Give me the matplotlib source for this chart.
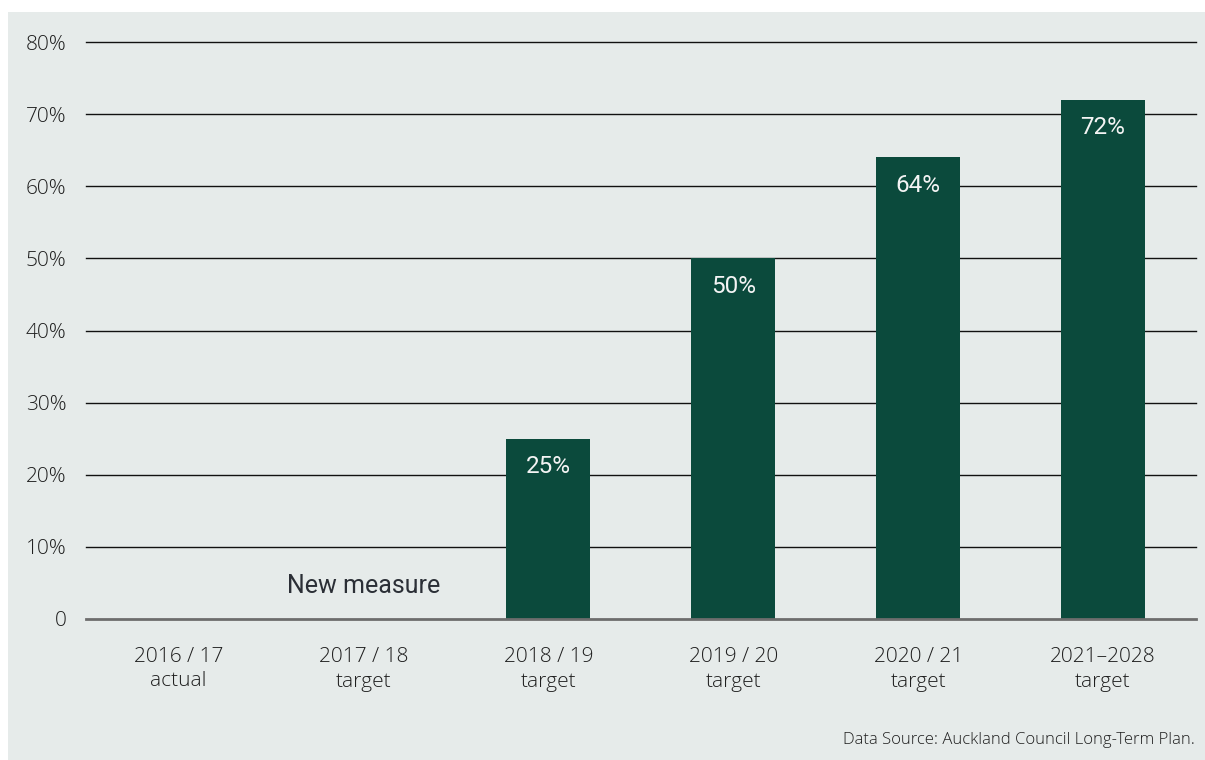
import matplotlib
matplotlib.use("Agg")
import matplotlib.pyplot as plt
from matplotlib.patches import Rectangle
from matplotlib.transforms import offset_copy

# Data
categories = ["2016 / 17\nactual", "2017 / 18\ntarget", "2018 / 19\ntarget",
              "2019 / 20\ntarget", "2020 / 21\ntarget", "2021\u20132028\ntarget"]
values = [None, None, 25, 50, 64, 72]
value_labels = ["", "", "25%", "50%", "64%", "72%"]
y_ticks = [0, 10, 20, 30, 40, 50, 60, 70, 80]
y_tick_labels = ["0", "10%", "20%", "30%", "40%", "50%", "60%", "70%", "80%"]
note_text = "New measure"
source_text = "Data Source: Auckland Council Long-Term Plan."

BAR = "#0b4a3c"
BG = "#e6ebea"
TXT = "#1f1f1f"

W, H = 1205, 760
fig = plt.figure(figsize=(W / 100, H / 100), dpi=100, facecolor="white")

# light panel behind the chart
fig.patches.append(Rectangle((8 / W, 0), 1 - 8 / W, 1 - 12 / H,
                             transform=fig.transFigure, facecolor=BG,
                             edgecolor="none", zorder=-10))

left, right = 86 / W, 1195.5 / W
bottom, top = 1 - 619 / H, 1 - 42 / H
ax = fig.add_axes([left, bottom, right - left, top - bottom])
ax.set_facecolor("none")

x = list(range(len(categories)))
ax.set_xlim(-0.5, len(categories) - 0.5)
ax.set_ylim(0, 80)

# horizontal gridlines
for t in y_ticks[1:]:
    ax.axhline(t, color="#111111", lw=1.0, zorder=1, clip_on=False)
ax.axhline(0, color="#6d6d6d", lw=2.0, zorder=3, clip_on=False)

bx = [i for i, v in zip(x, values) if v is not None]
bv = [v for v in values if v is not None]
ax.bar(bx, bv, width=0.455, color=BAR, zorder=2)

for i, v, lab in zip(x, values, value_labels):
    if v is None:
        continue
    ax.annotate(lab, (i, v), xytext=(0, -28), textcoords="offset pixels",
                ha="center", va="center", color="#f4f4f4", fontsize=17.5,
                family="Roboto", fontweight="normal", zorder=4)

ax.text(1, 4.6, note_text, ha="center", va="center", fontsize=18,
        family="Roboto", color="#2b2f36", zorder=4)

for s in ax.spines.values():
    s.set_visible(False)
ax.tick_params(length=0)
ax.set_yticks(y_ticks)
ax.set_yticklabels(y_tick_labels, family="Open Sans", fontsize=15, color=TXT,
                   fontweight="light")
ax.tick_params(axis="y", pad=14)
ax.set_xticks([])

for i, cat in enumerate(categories):
    ax.text(i, 0, cat, transform=offset_copy(ax.transData, fig=fig, x=0, y=-28, units="dots"),
            ha="center", va="top", fontsize=15, family="Open Sans", color=TXT,
            fontweight="light", linespacing=1.3)

fig.text(1195 / W, 1 - 740 / H, source_text, ha="right", va="center",
         fontsize=12, family="Open Sans", color=TXT, fontweight="light")

fig.savefig("out.png", dpi=100, facecolor="white")
